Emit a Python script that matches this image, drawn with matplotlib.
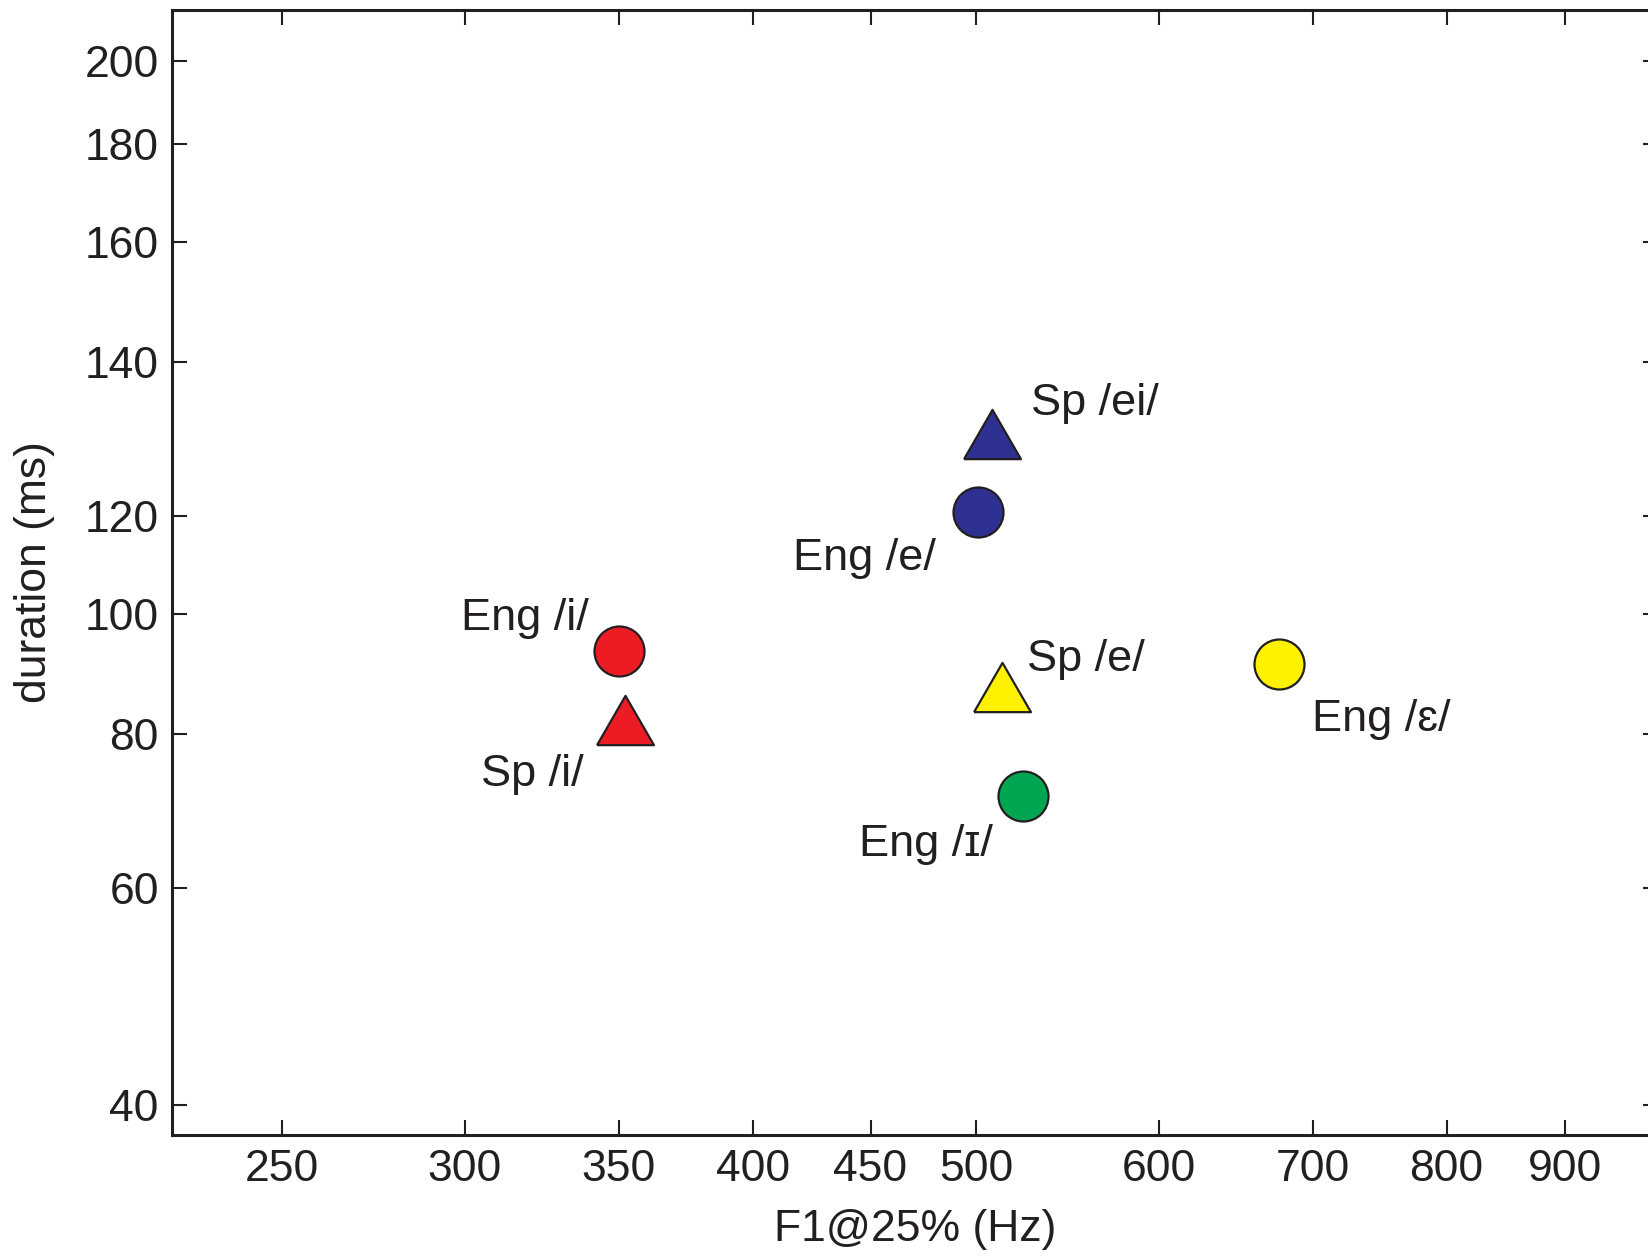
import matplotlib.pyplot as plt
from matplotlib.ticker import FixedLocator, NullLocator

plt.rcParams['font.family'] = ['Liberation Sans', 'DejaVu Sans']

# data (log axes)
labels = ['Eng /i/', 'Sp /i/', 'Eng /e/', 'Sp /ei/', 'Sp /e/', 'Eng /ɪ/', 'Eng /ɛ/']
f1 = [350, 352, 501, 508, 513, 524, 677]
dur = [93.3, 82.0, 120.8, 139.8, 87.3, 71.2, 91.1]
markers = ['circle', 'triangle', 'circle', 'triangle', 'triangle', 'circle', 'circle']
colors = ['#ED1C24', '#ED1C24', '#2E3192', '#2E3192', '#FFF200', '#00A651', '#FFF200']
# label offsets in pixels (centre x, baseline y) relative to the marker
label_dx = [-94, -92, -114, 103, 84, -97, 102]
label_dy = [21, -66, -58, 19, 16, -60, -67]

x_ticks = [250, 300, 350, 400, 450, 500, 600, 700, 800, 900]
y_tick_pos = [40, 60, 80, 100, 120, 160, 200, 240, 280]
y_tick_labels = ['40', '60', '80', '100', '120', '140', '160', '180', '200']

dark = '#231F20'
tri = [(-1, -0.866), (1, -0.866), (0, 0.866), (-1, -0.866)]

fig = plt.figure(figsize=(16.48, 12.56), dpi=100)
ax = fig.add_axes([172/1648, 1 - 1135/1256, 1486/1648, 1125.5/1256])
ax.set_xscale('log')
ax.set_yscale('log')

for x, y, m, c in zip(f1, dur, markers, colors):
    if m == 'circle':
        ax.plot(x, y, marker='o', ms=36, mfc=c, mec=dark, mew=1.6, ls='none', zorder=3)
    else:
        ax.plot(x, y, marker=tri, ms=41, mfc=c, mec=dark, mew=1.6, ls='none', zorder=3)

for x, y, t, dx, dy in zip(f1, dur, labels, label_dx, label_dy):
    ax.annotate(t, (x, y), xytext=(dx, dy), textcoords='offset pixels',
                ha='center', va='baseline', fontsize=32.5, color=dark)

ax.set_xlim(224, 988)
ax.set_ylim(37.85, 308.5)

ax.xaxis.set_major_locator(FixedLocator(x_ticks))
ax.xaxis.set_minor_locator(NullLocator())
ax.set_xticklabels([str(v) for v in x_ticks])
ax.yaxis.set_major_locator(FixedLocator(y_tick_pos))
ax.yaxis.set_minor_locator(NullLocator())
ax.set_yticklabels(y_tick_labels)

ax.tick_params(axis='both', which='major', direction='in', length=10.5, width=1.5,
               color=dark, labelsize=32, labelcolor=dark,
               top=True, right=True)
ax.tick_params(axis='x', pad=10)
ax.tick_params(axis='y', pad=9.5)

for s in ax.spines.values():
    s.set_linewidth(2.2)
    s.set_color(dark)

ax.set_xlabel('F1@25% (Hz)', fontsize=32, color=dark, va='center')
ax.xaxis.set_label_coords(0.5, -0.0844)
ax.set_ylabel('duration (ms)', fontsize=32, color=dark, va='center')
ax.yaxis.set_label_coords(-0.0922, 0.5)

fig.savefig('out.png', dpi=100)
